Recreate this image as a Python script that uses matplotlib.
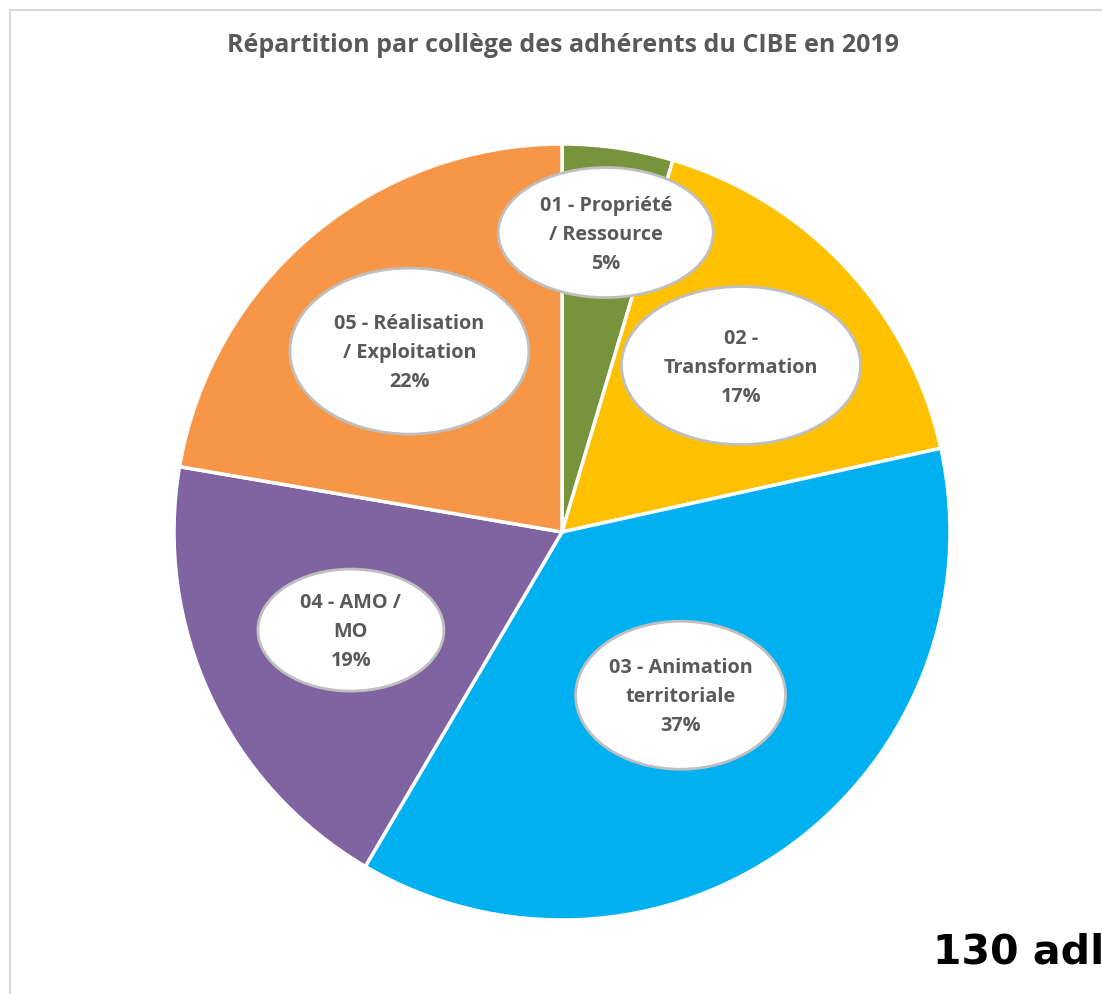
import numpy as np
import matplotlib
matplotlib.use("Agg")
from matplotlib import pyplot as plt
from matplotlib.patches import Ellipse
from matplotlib.lines import Line2D

# data
colleges = ["01 - Propriété\n/ Ressource", "02 -\nTransformation", "03 - Animation\nterritoriale",
            "04 - AMO /\nMO", "05 - Réalisation\n/ Exploitation"]
members = [6, 22, 48, 25, 29]
colors = ["#77933C", "#FFC000", "#00B0F0", "#8064A2", "#F79646"]
title = "Répartition par collège des adhérents du CIBE en 2019"
total_label = "130 adl"

# label placement (fraction of radius along the wedge mid-angle) and bubble sizes
label_r = [0.78, 0.63, 0.52, 0.60, 0.61]
bubble_w = [215, 239, 210, 186, 239]
bubble_h = [130, 158, 148, 122, 166]

W, H = 1102, 994
fig = plt.figure(figsize=(W / 100, H / 100), dpi=100)
ax = fig.add_axes([0, 0, 1, 1])

cx, cy, R = 562, H - 532, 388

wedges, _ = ax.pie(members, colors=colors, startangle=90, counterclock=False,
                   center=(cx, cy), radius=R, frame=True,
                   wedgeprops=dict(edgecolor="white", linewidth=2.5))
ax.set_xlim(0, W)
ax.set_ylim(0, H)
ax.axis("off")

total = sum(members)
cum = np.cumsum([0] + members)
for i, name in enumerate(colleges):
    frac_mid = (cum[i] + members[i] / 2) / total
    ang = np.deg2rad(90 - 360 * frac_mid)
    x = cx + label_r[i] * R * np.cos(ang)
    y = cy + label_r[i] * R * np.sin(ang)
    ax.add_patch(Ellipse((x, y), bubble_w[i], bubble_h[i], facecolor="white",
                         edgecolor="#BFBFBF", linewidth=2, zorder=3))
    pct = round(100 * members[i] / total)
    ax.text(x, y - 2, f"{name}\n{pct}%", ha="center", va="center", fontsize=14.3,
            family="Open Sans", fontweight="bold", color="#595959",
            linespacing=1.6, zorder=4)

ax.text(W / 2 + 12, H - 46, title, ha="center", va="center", fontsize=18,
        family="Open Sans", fontweight="bold", color="#595959")

ax.text(933, H - 953, total_label, ha="left", va="center", fontsize=29.5,
        family="DejaVu Sans", fontweight="bold", color="black")

# chart frame (top and left edges visible)
fig.add_artist(Line2D([10 / W, 1], [1 - 10 / H, 1 - 10 / H], color="#D9D9D9", lw=1.5))
fig.add_artist(Line2D([10 / W, 10 / W], [0, 1 - 10 / H], color="#D9D9D9", lw=1.5))

fig.savefig("out.png", dpi=100)
